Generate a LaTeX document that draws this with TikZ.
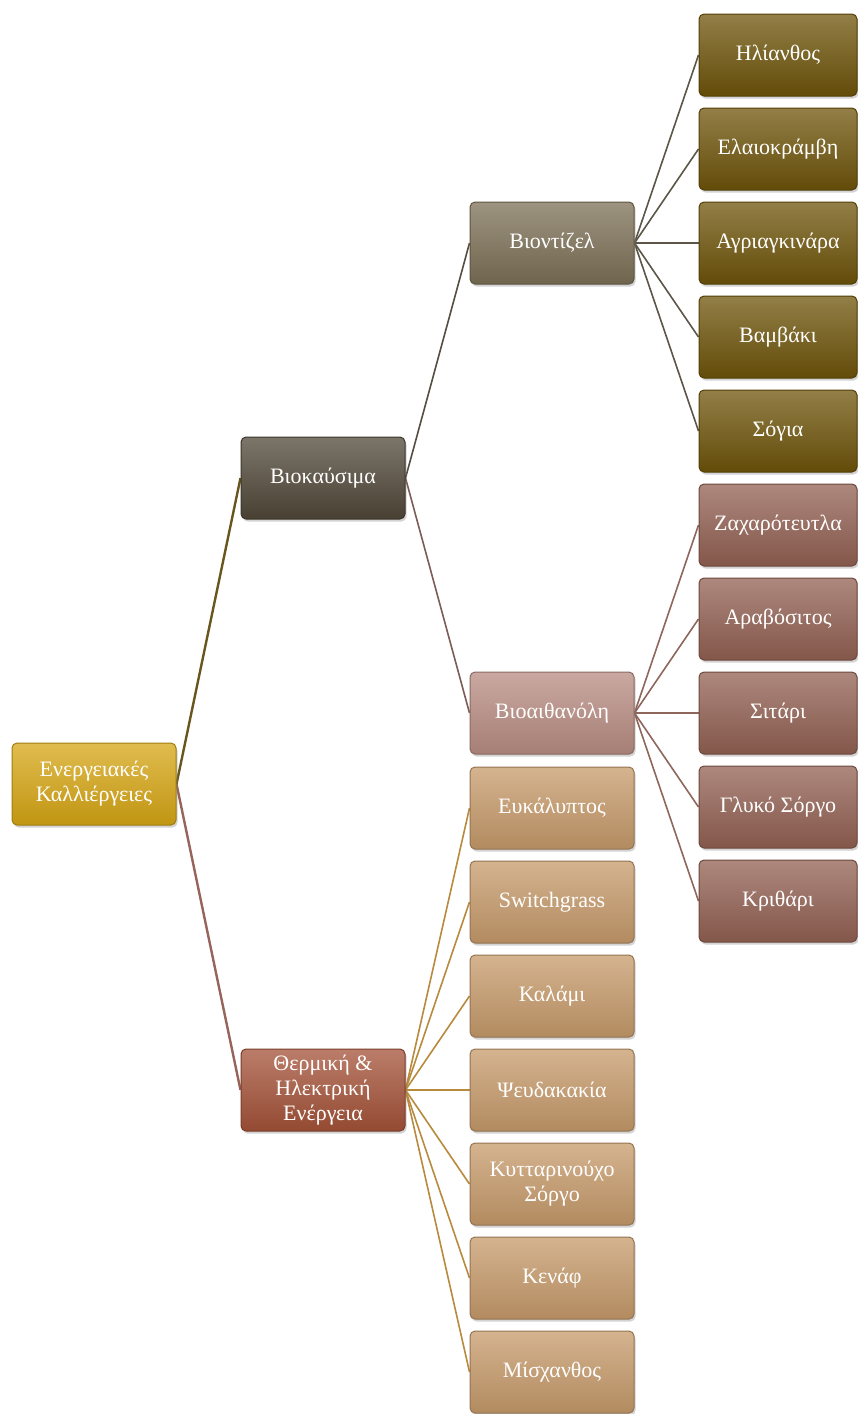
\documentclass[tikz,border=0pt]{standalone}
\usepackage{fontspec}
\setmainfont{Liberation Serif}
\usetikzlibrary{shadows,backgrounds}

\definecolor{rootcol}{RGB}{214,166,20}
\definecolor{fuelcol}{RGB}{80,71,56}
\definecolor{heatcol}{RGB}{164,82,56}
\definecolor{dieselcol}{RGB}{124,112,86}
\definecolor{ethcol}{RGB}{184,140,130}
\definecolor{oilcol}{RGB}{110,84,10}
\definecolor{graincol}{RGB}{146,96,82}
\definecolor{woodcol}{RGB}{198,154,106}
% connector colours
\definecolor{fuellink}{RGB}{104,86,28}
\definecolor{heatlink}{RGB}{150,100,90}
\definecolor{diesellink}{RGB}{84,78,64}
\definecolor{ethlink}{RGB}{124,92,86}
\definecolor{oillink}{RGB}{92,86,72}
\definecolor{grainlink}{RGB}{142,102,92}
\definecolor{woodlink}{RGB}{184,138,62}

\begin{document}
\begin{tikzpicture}[x=1pt,y=-1pt,
  box/.style={rounded corners=5pt, minimum width=164pt, minimum height=82pt,
    inner sep=0pt, align=center, text=white,
    font=\fontsize{22}{25}\selectfont,
    draw=#1!75!black, line width=1pt,
    top color=#1!75!white, middle color=#1, bottom color=#1!90!black,
    drop shadow={opacity=0.35, shadow xshift=1.5pt, shadow yshift=-2.5pt}},
  leafbox/.style={box=#1, minimum width=158pt},
  link/.style={draw=#1, line width=1.6pt}]
  \useasboundingbox (0,0) rectangle (858,1414);

  % Root
  \node[box=rootcol] (crops) at (94,784) {Ενεργειακές\\Καλλιέργειες};

  % Level 1
  \node[box=fuelcol] (fuels) at (323,478) {Βιοκαύσιμα};
  \node[box=heatcol] (heat) at (323,1090) {Θερμική \&\\Ηλεκτρική\\Ενέργεια};

  % Level 2: biofuels
  \node[box=dieselcol] (diesel) at (552,243) {Βιοντίζελ};
  \node[box=ethcol] (ethanol) at (552,713) {Βιοαιθανόλη};

  % Level 2: heat and power crops
  \node[box=woodcol] (eucal) at (552,808) {Ευκάλυπτος};
  \node[box=woodcol] (switch) at (552,902) {Switchgrass};
  \node[box=woodcol] (reed) at (552,996) {Καλάμι};
  \node[box=woodcol] (acacia) at (552,1090) {Ψευδακακία};
  \node[box=woodcol] (sorghumc) at (552,1184) {Κυτταρινούχο\\Σόργο};
  \node[box=woodcol] (kenaf) at (552,1278) {Κενάφ};
  \node[box=woodcol] (miscan) at (552,1372) {Μίσχανθος};

  % Level 3: biodiesel crops
  \node[leafbox=oilcol] (sunfl) at (778,55) {Ηλίανθος};
  \node[leafbox=oilcol] (rape) at (778,149) {Ελαιοκράμβη};
  \node[leafbox=oilcol] (cardoon) at (778,243) {Αγριαγκινάρα};
  \node[leafbox=oilcol] (cotton) at (778,337) {Βαμβάκι};
  \node[leafbox=oilcol] (soy) at (778,431) {Σόγια};

  % Level 3: bioethanol crops
  \node[leafbox=graincol] (beet) at (778,525) {Ζαχαρότευτλα};
  \node[leafbox=graincol] (maize) at (778,619) {Αραβόσιτος};
  \node[leafbox=graincol] (wheat) at (778,713) {Σιτάρι};
  \node[leafbox=graincol] (sweetsor) at (778,807) {Γλυκό Σόργο};
  \node[leafbox=graincol] (barley) at (778,901) {Κριθάρι};

  % Connectors
  \begin{pgfonlayer}{background}
  \draw[link=fuellink, line width=2.4pt] (crops.east) -- (fuels.west);
  \draw[link=heatlink, line width=2.4pt] (crops.east) -- (heat.west);
  \draw[link=diesellink] (fuels.east) -- (diesel.west);
  \draw[link=ethlink] (fuels.east) -- (ethanol.west);
  \foreach \leaf in {sunfl,rape,cardoon,cotton,soy}
    \draw[link=oillink] (diesel.east) -- (\leaf.west);
  \foreach \leaf in {beet,maize,wheat,sweetsor,barley}
    \draw[link=grainlink] (ethanol.east) -- (\leaf.west);
  \foreach \leaf in {eucal,switch,reed,acacia,sorghumc,kenaf,miscan}
    \draw[link=woodlink] (heat.east) -- (\leaf.west);
  \end{pgfonlayer}
\end{tikzpicture}
\end{document}
